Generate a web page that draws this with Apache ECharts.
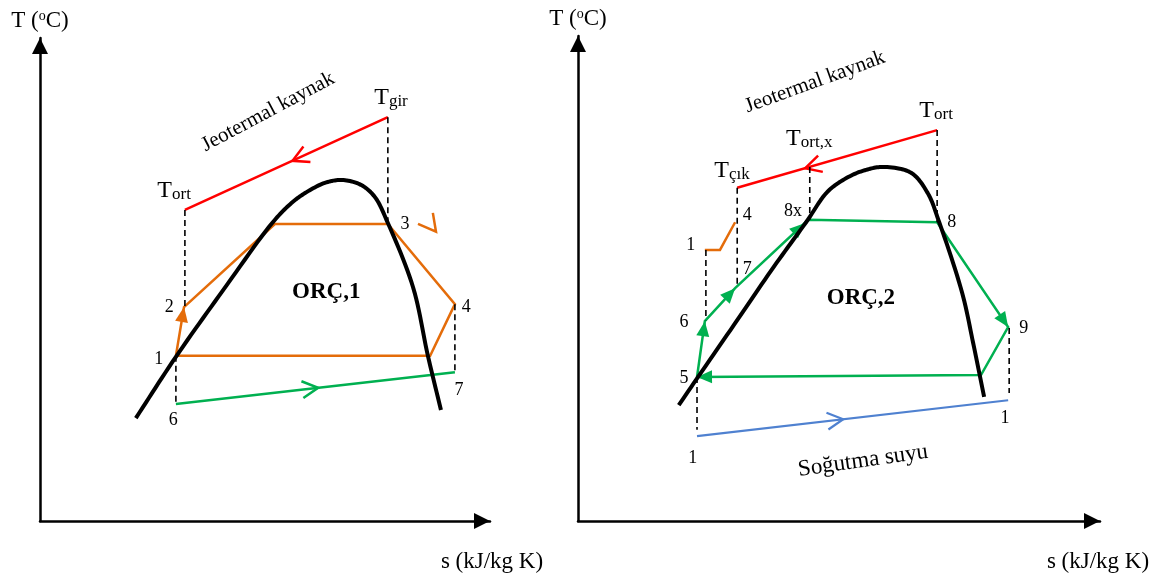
<!DOCTYPE html>
<html>
<head>
<meta charset="utf-8">
<script src="https://cdn.jsdelivr.net/npm/echarts@6/dist/echarts.min.js"></script>
<style>
html, body { margin: 0; background: #fff; }
#chart { width: 1162px; height: 576px; }
</style>
</head>
<body>
<div id="chart"></div>
<script>
// s-T points, arbitrary units (0..10 on each axis)

// ---- ORÇ,1 ----
const dome1 = [[2.13, 2.13], [3.02, 3.40], [4.07, 4.78], [5.16, 6.17], [5.56, 6.56], [5.89, 6.79], [6.33, 7.00],
  [6.71, 7.06], [7.13, 6.96], [7.44, 6.71], [7.73, 6.17], [8.29, 4.84], [8.62, 3.42], [8.91, 2.30]];
const source1 = [[7.73, 8.36], [3.22, 6.44]];                 // T_gir -> T_ort
const cycle1 = [[3.02, 3.42], [3.20, 4.43], [5.22, 6.15], [7.73, 6.15], [9.22, 4.49], [8.67, 3.42], [3.02, 3.42]];
const sink1 = [[3.02, 2.42], [9.22, 3.08]];                   // 6 -> 7
const tick1 = [[8.40, 6.15], [8.80, 5.99], [8.73, 6.38]];
const drops1 = [
  [[3.22, 6.44], [3.22, 4.43]],
  [[3.02, 3.42], [3.02, 2.42]],
  [[7.73, 8.36], [7.73, 6.15]],
  [[9.22, 4.49], [9.22, 3.08]]
];
const nums1 = [[2.64, 3.35, '1'], [2.87, 4.43, '2'], [8.11, 6.15, '3'], [9.47, 4.43, '4'], [2.96, 2.09, '6'], [9.31, 2.71, '7']];
const temps1 = [[2.98, 6.83, 'T', 'ort'], [7.80, 8.76, 'T', 'gir']];
const titles1 = [[6.36, 4.74, 'ORÇ,1']];
const notes1 = [[5.07, 8.47, 'Jeotermal kaynak', 28, 21]];

// ---- ORÇ,2 ----
const dome2 = [[1.93, 2.39], [2.30, 2.97], [3.05, 4.14], [3.75, 5.24], [4.37, 6.16], [4.79, 6.80], [5.21, 7.11],
  [5.52, 7.24], [5.84, 7.30], [6.38, 7.18], [6.70, 6.76], [6.92, 6.16], [7.36, 4.70], [7.57, 3.67], [7.78, 2.56]];
const source2 = [[6.88, 8.06], [3.05, 6.87]];                 // T_ort -> T_çık
const cycle2 = [[2.28, 2.97], [2.43, 4.12], [3.01, 4.80], [4.41, 6.21], [6.88, 6.16], [8.24, 4.00], [7.72, 3.01], [2.28, 2.97]];
const preheat2 = [[2.43, 5.59], [2.72, 5.59], [3.01, 6.16]];
const coolant2 = [[2.28, 1.75], [8.24, 2.49]];
const drops2 = [
  [[3.05, 6.87], [3.05, 4.82]],
  [[4.44, 7.30], [4.44, 6.21]],
  [[6.88, 8.06], [6.88, 6.16]],
  [[2.45, 5.59], [2.45, 4.14]],
  [[2.28, 2.97], [2.28, 1.88]],
  [[8.26, 3.98], [8.26, 2.64]]
];
const nums2 = [[3.24, 6.31, '4'], [4.12, 6.39, '8x'], [7.16, 6.16, '8'], [2.16, 5.69, '1'], [3.24, 5.20, '7'],
  [2.03, 4.10, '6'], [2.03, 2.95, '5'], [8.54, 3.98, '9'], [8.18, 2.12, '1'], [2.20, 1.30, '1']];
const temps2 = [[2.95, 7.22, 'T', 'çık'], [4.43, 7.88, 'T', 'ort,x'], [6.86, 8.45, 'T', 'ort']];
const titles2 = [[5.42, 4.60, 'ORÇ,2']];
const notes2 = [[4.54, 9.05, 'Jeotermal kaynak', 20, 21], [5.46, 1.24, 'Soğutma suyu', 8, 23]];

const FONT = '"Liberation Serif", "Times New Roman", serif';
const RED = '#ff0000', ORANGE = '#e46c0a', GREEN = '#00b050', BLUE = '#4f81d0';
const DASH = { color: '#000', width: 1.6, dash: [6, 4] };

const paths1 = [
  { pts: source1, color: RED, width: 2.5, arrows: [[0, 0.47, 'open']] },
  { pts: cycle1, color: ORANGE, width: 2.5, arrows: [[0, 1, 'solid']] },
  { pts: sink1, color: GREEN, width: 2.5, arrows: [[0, 0.51, 'open']] },
  { pts: tick1, color: ORANGE, width: 2.5 }
].concat(drops1.map(d => Object.assign({ pts: d }, DASH)));

const paths2 = [
  { pts: source2, color: RED, width: 2.5, arrows: [[0, 0.66, 'open']] },
  { pts: cycle2, color: GREEN, width: 2.5,
    arrows: [[0, 1, 'solid'], [1, 1, 'solid'], [2, 0.95, 'solid'], [4, 1, 'solid'], [6, 1, 'solid']] },
  { pts: preheat2, color: ORANGE, width: 2.5 },
  { pts: coolant2, color: BLUE, width: 2.2, arrows: [[0, 0.47, 'open']] }
].concat(drops2.map(d => Object.assign({ pts: d }, DASH)));

function textItems(nums, temps, titles, notes) {
  const out = [];
  nums.forEach(n => out.push({ at: [n[0], n[1]], text: n[2], font: '18px ' + FONT }));
  temps.forEach(t => out.push({ at: [t[0], t[1]], text: '{t|' + t[2] + '}{s|' + t[3] + '}', rich: true }));
  titles.forEach(t => out.push({ at: [t[0], t[1]], text: t[2], font: 'bold 23px ' + FONT }));
  notes.forEach(t => out.push({ at: [t[0], t[1]], text: t[2], font: t[4] + 'px ' + FONT, rot: t[3] }));
  return out;
}
const texts1 = textItems(nums1, temps1, titles1, notes1);
const texts2 = textItems(nums2, temps2, titles2, notes2);

// centripetal Catmull-Rom through the projected dome points (pixel space)
function spline(pts, steps) {
  const n = pts.length;
  const P = i => {
    if (i < 0) return [2 * pts[0][0] - pts[1][0], 2 * pts[0][1] - pts[1][1]];
    if (i >= n) return [2 * pts[n - 1][0] - pts[n - 2][0], 2 * pts[n - 1][1] - pts[n - 2][1]];
    return pts[i];
  };
  const knot = (a, b) => Math.pow(Math.hypot(b[0] - a[0], b[1] - a[1]), 0.5) || 1e-6;
  const lerp = (a, b, ta, tb, t) => {
    const w = (t - ta) / (tb - ta);
    return [a[0] + (b[0] - a[0]) * w, a[1] + (b[1] - a[1]) * w];
  };
  const out = [pts[0]];
  for (let i = 0; i < n - 1; i++) {
    const p0 = P(i - 1), p1 = P(i), p2 = P(i + 1), p3 = P(i + 2);
    const t0 = 0, t1 = t0 + knot(p0, p1), t2 = t1 + knot(p1, p2), t3 = t2 + knot(p2, p3);
    for (let j = 1; j <= steps; j++) {
      const t = t1 + (t2 - t1) * j / steps;
      const a1 = lerp(p0, p1, t0, t1, t), a2 = lerp(p1, p2, t1, t2, t), a3 = lerp(p2, p3, t2, t3, t);
      const b1 = lerp(a1, a2, t0, t2, t), b2 = lerp(a2, a3, t1, t3, t);
      out.push(lerp(b1, b2, t1, t2, t));
    }
  }
  return out;
}

function domeRenderer(dome) {
  return function (params, api) {
    const pts = spline(dome.map(v => api.coord(v)), 12);
    return { type: 'polyline', shape: { points: pts },
      style: { stroke: '#000', lineWidth: 4, fill: null, lineJoin: 'round' } };
  };
}

function arrowHead(a, b, t, kind, color, width) {
  const dx = b[0] - a[0], dy = b[1] - a[1];
  const len = Math.hypot(dx, dy);
  const ux = dx / len, uy = dy / len;
  const tip = [a[0] + dx * t, a[1] + dy * t];
  if (kind === 'open') {
    const L = 18, ang = 28 * Math.PI / 180;
    const arm = sg => {
      const c = Math.cos(ang), s = Math.sin(ang) * sg;
      return [tip[0] - L * (ux * c - uy * s), tip[1] - L * (ux * s + uy * c)];
    };
    return { type: 'polyline', shape: { points: [arm(1), tip, arm(-1)] },
      style: { stroke: color, lineWidth: width, fill: null } };
  }
  const L = 15, W = 13;
  const bx = tip[0] - ux * L, by = tip[1] - uy * L;
  return { type: 'polygon', shape: { points: [tip, [bx - uy * W / 2, by + ux * W / 2], [bx + uy * W / 2, by - ux * W / 2]] },
    style: { fill: color, stroke: null } };
}

function pathRenderer(paths) {
  return function (params, api) {
    const p = paths[api.value(2)];
    const pts = p.pts.map(v => api.coord(v));
    const children = [{
      type: 'polyline', shape: { points: pts },
      style: { stroke: p.color, lineWidth: p.width, fill: null, lineDash: p.dash || null, lineJoin: 'miter' }
    }];
    (p.arrows || []).forEach(a => children.push(arrowHead(pts[a[0]], pts[a[0] + 1], a[1], a[2], p.color, p.width)));
    return { type: 'group', children: children };
  };
}

function textRenderer(items) {
  return function (params, api) {
    const it = items[api.value(2)];
    const c = api.coord(it.at);
    const style = { text: it.text, fill: '#000', align: 'center', verticalAlign: 'middle' };
    if (it.rich) {
      style.rich = {
        t: { fontSize: 24, fontFamily: FONT, fill: '#000' },
        s: { fontSize: 17, fontFamily: FONT, fill: '#000', verticalAlign: 'bottom' }
      };
    } else {
      style.font = it.font;
    }
    return { type: 'text', x: c[0], y: c[1], rotation: (it.rot || 0) * Math.PI / 180, style: style };
  };
}

const axisLine = {
  show: true, symbol: ['none', 'triangle'], symbolSize: [16, 16], symbolOffset: [0, -8],
  lineStyle: { color: '#000', width: 2.5 }
};
const nameT = '{a|T (}{b|o}{a|C)}';
const nameTStyle = {
  rich: {
    a: { fontSize: 23, fontFamily: FONT, color: '#000' },
    b: { fontSize: 14, fontFamily: FONT, color: '#000', verticalAlign: 'top' }
  }
};
function xAxisDef(grid, gap) {
  return {
    type: 'value', gridIndex: grid, min: 0, max: 10, axisLine: axisLine,
    axisTick: { show: false }, axisLabel: { show: false }, splitLine: { show: false },
    name: 's (kJ/kg K)', nameLocation: 'end', nameGap: gap,
    nameTextStyle: { fontSize: 23, fontFamily: FONT, color: '#000', align: 'center', verticalAlign: 'top', padding: [29, 0, 0, 0] }
  };
}
function yAxisDef(grid) {
  return {
    type: 'value', gridIndex: grid, min: 0, max: 10, axisLine: axisLine,
    axisTick: { show: false }, axisLabel: { show: false }, splitLine: { show: false },
    name: nameT, nameLocation: 'end', nameGap: 6, nameTextStyle: nameTStyle
  };
}

function panelSeries(idx, dome, paths, texts) {
  return [
    { type: 'custom', xAxisIndex: idx, yAxisIndex: idx, z: 2, renderItem: pathRenderer(paths),
      data: paths.map((p, i) => [p.pts[0][0], p.pts[0][1], i]) },
    { type: 'custom', xAxisIndex: idx, yAxisIndex: idx, z: 3, renderItem: domeRenderer(dome),
      data: [[dome[0][0], dome[0][1], 0]] },
    { type: 'custom', xAxisIndex: idx, yAxisIndex: idx, z: 4, renderItem: textRenderer(texts),
      data: texts.map((t, i) => [t.at[0], t.at[1], i]) }
  ];
}

const chart = echarts.init(document.getElementById('chart'));
chart.setOption({
  animation: false,
  backgroundColor: '#fff',
  grid: [
    { left: 40, top: 38, width: 450, height: 483, outerBoundsMode: 'none' },
    { left: 578, top: 36, width: 522, height: 485, outerBoundsMode: 'none' }
  ],
  xAxis: [xAxisDef(0, 2), xAxisDef(1, -2)],
  yAxis: [yAxisDef(0), yAxisDef(1)],
  series: panelSeries(0, dome1, paths1, texts1).concat(panelSeries(1, dome2, paths2, texts2))
});
</script>
</body>
</html>
